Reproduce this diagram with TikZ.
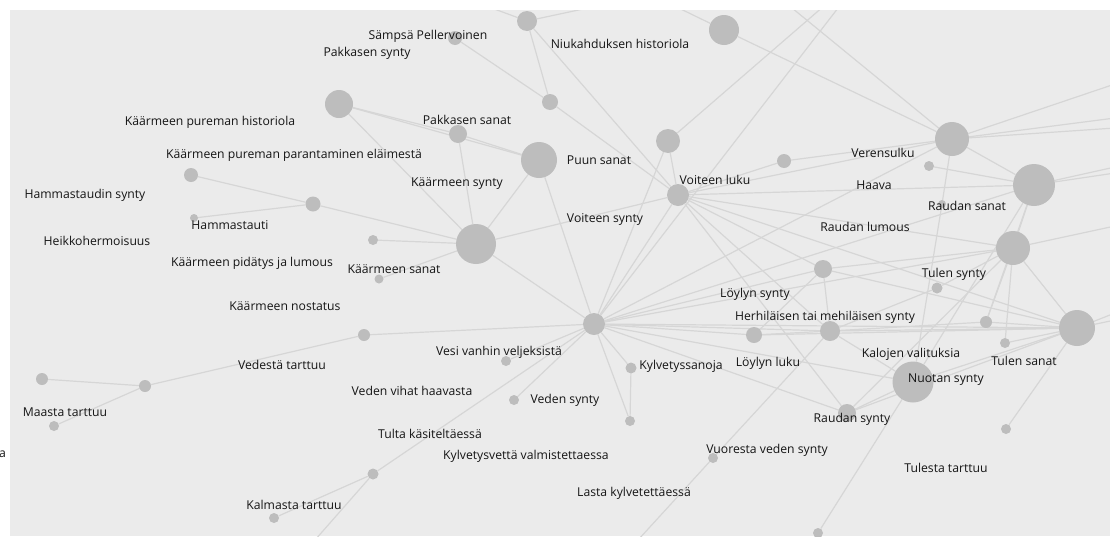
\documentclass[tikz,border=0pt]{standalone}
\usepackage{fontspec}
\setmainfont{Open Sans}
\usepackage{xcolor}
\usetikzlibrary{backgrounds}

\definecolor{paper}{HTML}{EBEBEB}
\definecolor{blob}{HTML}{BDBDBD}
\definecolor{wire}{HTML}{D6D6D6}
\definecolor{ink}{HTML}{151515}

\tikzset{
  vertex/.style={circle, fill=blob, inner sep=0pt, minimum size=#1},
  tag/.style={font=\fontsize{12.2}{14}\selectfont, text=ink, inner sep=0pt, anchor=base},
  link/.style={draw=wire, line width=1.2pt}
}

\begin{document}
\begin{tikzpicture}[x=1pt,y=-1pt]
\useasboundingbox (0,0) rectangle (1110,536);

% vertices
\node[vertex=20pt] (topa) at (527,21) {};
\node[vertex=14pt] (sampsa) at (455,38) {};
\node[vertex=30pt] (topc) at (724,30) {};
\node[vertex=16pt] (niuka) at (550,102) {};
\node[vertex=28pt] (kphist) at (339,104) {};
\node[vertex=18pt] (pakkas) at (458,134) {};
\node[vertex=36pt] (puun) at (539,160) {};
\node[vertex=24pt] (voitup) at (668,141) {};
\node[vertex=22pt] (voiteen) at (678,195) {};
\node[vertex=40pt] (kaarme) at (476,244) {};
\node[vertex=15pt] (hammas) at (313,204) {};
\node[vertex=14pt] (hsynty) at (191,175) {};
\node[vertex=8pt] (hauti) at (194,218) {};
\node[vertex=10pt] (pidatys) at (373,240) {};
\node[vertex=9pt] (ksanat) at (379,279) {};
\node[vertex=22pt] (vesi) at (594,324) {};
\node[vertex=14pt] (verens) at (784,161) {};
\node[vertex=34pt] (haava) at (952,139) {};
\node[vertex=10pt] (haavas) at (929,166) {};
\node[vertex=42pt] (rsanat) at (1034,185) {};
\node[vertex=8pt] (rsmall) at (942,204) {};
\node[vertex=34pt] (rlumous) at (1013,248) {};
\node[vertex=18pt] (tsynty) at (823,269) {};
\node[vertex=11pt] (tsmall) at (937,288) {};
\node[vertex=12pt] (tsanata) at (986,322) {};
\node[vertex=36pt] (tsanat) at (1077,328) {};
\node[vertex=10pt] (tsanatb) at (1005,343) {};
\node[vertex=16pt] (loyly) at (754,335) {};
\node[vertex=20pt] (herhi) at (830,331) {};
\node[vertex=41pt] (nuotan) at (913,382) {};
\node[vertex=18pt] (rsynty) at (847,413) {};
\node[vertex=10pt] (tulesta) at (1006,429) {};
\node[vertex=10pt] (alhaal) at (818,533) {};
\node[vertex=11pt] (kylvsan) at (631,368) {};
\node[vertex=10pt] (kylvalm) at (630,421) {};
\node[vertex=10pt] (vuoresta) at (713,458) {};
\node[vertex=10pt] (vvanhin) at (506,361) {};
\node[vertex=10pt] (vsynty) at (514,400) {};
\node[vertex=11pt] (tulta) at (373,474) {};
\node[vertex=12pt] (vedesta) at (364,335) {};
\node[vertex=12pt] (maasta) at (145,386) {};
\node[vertex=12pt] (maastab) at (42,379) {};
\node[vertex=10pt] (maastac) at (54,426) {};
\node[vertex=10pt] (kalmasta) at (274,518) {};

% loose ends outside the frame
\coordinate (oa) at (467,-1);
\coordinate (ob) at (630,-1);
\coordinate (oc) at (660,-1);
\coordinate (od) at (781,-1);
\coordinate (oe) at (832,-1);
\coordinate (of) at (845,-1);
\coordinate (og) at (1115,84);
\coordinate (oh) at (1115,118);
\coordinate (oi) at (1115,128);
\coordinate (oj) at (1115,167);
\coordinate (ok) at (1115,173);
\coordinate (ol) at (1115,226);
\coordinate (om) at (1115,313);
\coordinate (on) at (1115,320);
\coordinate (oo) at (315,540);
\coordinate (op) at (638,540);

% links
\begin{scope}[on background layer]
\fill[white] (0,0) rectangle (1110,536);
\fill[paper] (10,10) rectangle (1110,536);
\clip (10,10) rectangle (1110,536);
\foreach \a/\b in {hsynty/hammas, hauti/hammas, hammas/kaarme, pidatys/kaarme, ksanat/kaarme,
  kphist/pakkas, kphist/puun, kphist/kaarme, pakkas/puun, pakkas/kaarme, puun/kaarme,
  kaarme/voiteen, kaarme/vesi, puun/vesi,
  topa/niuka, sampsa/niuka, niuka/voiteen, topa/voiteen, voitup/voiteen, voitup/vesi,
  topa/oa, topa/ob, topc/oc, topc/haava, haava/od, voitup/oe, vesi/of,
  haava/og, haava/oh, haava/oi, rsanat/oj, rsanat/ok, rlumous/ol, tsanat/om, tsanat/on,
  tulta/oo, vuoresta/op,
  vesi/vedesta, vedesta/maasta, maasta/maastab, maasta/maastac,
  vesi/vvanhin, vesi/vsynty, vesi/tulta, tulta/kalmasta,
  vesi/kylvsan, vesi/kylvalm, kylvsan/kylvalm, vesi/voiteen,
  vesi/haava, vesi/rsanat, vesi/rlumous, vesi/tsynty, vesi/loyly, vesi/herhi,
  vesi/tsanat, vesi/nuotan, vesi/rsynty,
  voiteen/verens, verens/haava, voiteen/haava, voiteen/rsanat, voiteen/rlumous,
  voiteen/tsanat, voiteen/herhi, voiteen/rsynty, voiteen/tsynty,
  haavas/rsanat, haava/rsanat, haava/rsmall, rsmall/nuotan,
  rlumous/tsynty, tsynty/tsanat, tsynty/herhi, loyly/tsynty,
  rlumous/tsanat, rlumous/tsanata, rlumous/tsanatb, rlumous/rsynty, rsanat/rlumous,
  rsanat/tsanata, rsanat/nuotan, tsmall/herhi, tsmall/rlumous,
  loyly/herhi, herhi/tsanat, loyly/tsanat, herhi/tsanata, tsanata/tsanat, tsanatb/tsanat,
  herhi/nuotan, vuoresta/herhi, nuotan/rsynty, rsynty/tsanat, nuotan/tsanat,
  alhaal/nuotan, tulesta/tsanat}
  \draw[link] (\a) -- (\b);
\end{scope}

% labels
\node[tag] (l1) at (428,39) {Sämpsä Pellervoinen};
\node[tag] (l2) at (367,56) {Pakkasen synty};
\node[tag] (l3) at (620,48) {Niukahduksen historiola};
\node[tag] (l4) at (210,125) {Käärmeen pureman historiola};
\node[tag] (l5) at (467,124) {Pakkasen sanat};
\node[tag] (l6) at (294,158) {Käärmeen pureman parantaminen eläimestä};
\node[tag] (l7) at (599,164) {Puun sanat};
\node[tag] (l8) at (457,186) {Käärmeen synty};
\node[tag] (l9) at (715,184) {Voiteen luku};
\node[tag] (l10) at (883,157) {Verensulku};
\node[tag] (l11) at (874,189) {Haava};
\node[tag] (l12) at (967,210) {Raudan sanat};
\node[tag] (l13) at (865,231) {Raudan lumous};
\node[tag] (l14) at (85,198) {Hammastaudin synty};
\node[tag] (l15) at (230,229) {Hammastauti};
\node[tag] (l16) at (605,222) {Voiteen synty};
\node[tag] (l17) at (97,245) {Heikkohermoisuus};
\node[tag] (l18) at (252,266) {Käärmeen pidätys ja lumous};
\node[tag] (l19) at (394,273) {Käärmeen sanat};
\node[tag] (l20) at (954,277) {Tulen synty};
\node[tag] (l21) at (755,297) {Löylyn synty};
\node[tag] (l22) at (285,310) {Käärmeen nostatus};
\node[tag] (l23) at (825,320) {Herhiläisen tai mehiläisen synty};
\node[tag] (l24) at (499,355) {Vesi vanhin veljeksistä};
\node[tag] (l25) at (911,357) {Kalojen valituksia};
\node[tag] (l26) at (1024,365) {Tulen sanat};
\node[tag] (l27) at (768,366) {Löylyn luku};
\node[tag] (l28) at (681,369) {Kylvetyssanoja};
\node[tag] (l29) at (282,369) {Vedestä tarttuu};
\node[tag] (l30) at (946,382) {Nuotan synty};
\node[tag] (l31) at (412,395) {Veden vihat haavasta};
\node[tag] (l32) at (565,403) {Veden synty};
\node[tag] (l33) at (65,416) {Maasta tarttuu};
\node[tag] (l34) at (852,422) {Raudan synty};
\node[tag] (l35) at (430,438) {Tulta käsiteltäessä};
\node[tag] (l36) at (526,459) {Kylvetysvettä valmistettaessa};
\node[tag] (l37) at (767,453) {Vuoresta veden synty};
\node[tag] (l38) at (946,472) {Tulesta tarttuu};
\node[tag] (l39) at (634,496) {Lasta kylvetettäessä};
\node[tag] (l40) at (294,509) {Kalmasta tarttuu};
\node[tag, anchor=base east] (l41) at (6,457) {a};

\end{tikzpicture}
\end{document}
